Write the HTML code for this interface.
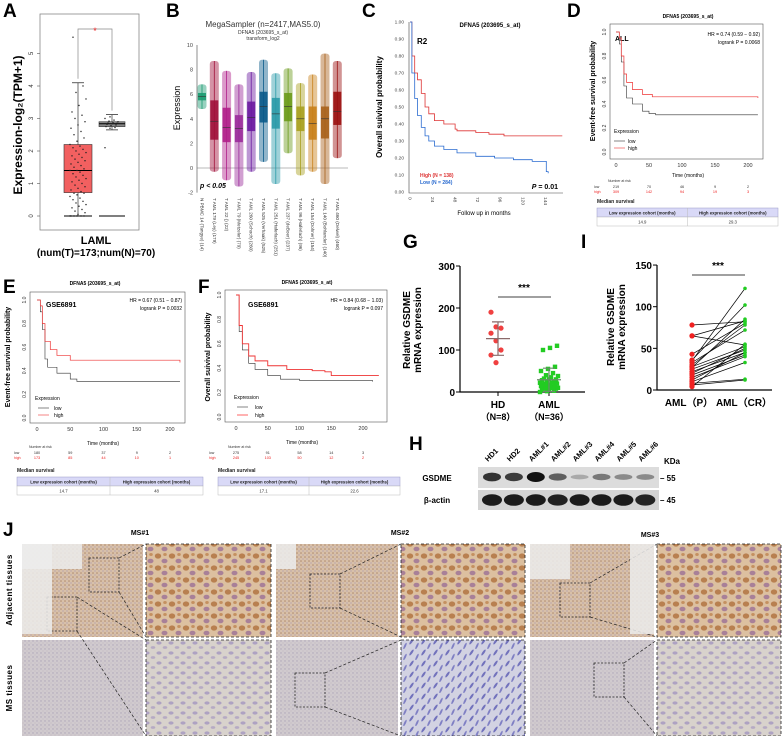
<!DOCTYPE html>
<html><head><meta charset="utf-8"><style>
html,body{margin:0;padding:0;background:#fff;}
svg{display:block;font-family:"Liberation Sans",Arial,sans-serif;}
.pl{font-size:19px;font-weight:bold;}
.t5{font-size:5px;}.t6{font-size:6px;}.t7{font-size:7px;}.t8{font-size:8px;}
</style></head><body>
<svg id="fig" width="783" height="736" viewBox="0 0 783 736">
<defs>
<pattern id="pAdj" width="4" height="4" patternUnits="userSpaceOnUse"><rect width="4" height="4" fill="#d8c0a8"/><circle cx="1" cy="1" r="0.8" fill="#b08a70"/><circle cx="3" cy="3" r="0.6" fill="#a898b0"/></pattern>
<pattern id="pAdjZ" width="14" height="12" patternUnits="userSpaceOnUse"><rect width="14" height="12" fill="#dcc0a0"/><ellipse cx="4" cy="4" rx="3.2" ry="2.6" fill="#b88050"/><ellipse cx="10.5" cy="9" rx="3" ry="2.3" fill="#a88098"/><ellipse cx="11" cy="2.5" rx="1.8" ry="1.5" fill="#c49060"/></pattern>
<pattern id="pMS" width="4" height="4" patternUnits="userSpaceOnUse"><rect width="4" height="4" fill="#d0cace"/><circle cx="1" cy="1" r="0.7" fill="#ada4b8"/><circle cx="3" cy="3" r="0.5" fill="#b8b0bc"/></pattern>
<pattern id="pMSZ" width="12" height="10" patternUnits="userSpaceOnUse"><rect width="12" height="10" fill="#d8d2cc"/><ellipse cx="3" cy="3" rx="2.6" ry="1.6" fill="#aea2c2"/><ellipse cx="9" cy="7.5" rx="2.3" ry="1.4" fill="#b6aac4"/></pattern>
<pattern id="pMSZ2" width="12" height="11" patternUnits="userSpaceOnUse"><rect width="12" height="11" fill="#d2d2e2"/><ellipse cx="3.5" cy="3.5" rx="3.5" ry="1.1" fill="#7272bc" transform="rotate(-55 3.5 3.5)"/><ellipse cx="9" cy="8" rx="3.5" ry="1" fill="#8080c4" transform="rotate(-65 9 8)"/></pattern>
</defs>

<!-- Panel labels -->
<text class="pl" x="3" y="17">A</text>
<text class="pl" x="166" y="17">B</text>
<text class="pl" x="362" y="17">C</text>
<text class="pl" x="567" y="17">D</text>
<text class="pl" x="3" y="293">E</text>
<text class="pl" x="198" y="293">F</text>
<text class="pl" x="403" y="248">G</text>
<text class="pl" x="581" y="248">I</text>
<text class="pl" x="409" y="450">H</text>
<text class="pl" x="3" y="536">J</text>

<!-- A static -->
<rect x="40" y="14" width="99" height="216" fill="none" stroke="#888" stroke-width="0.8"/>
<text x="22" y="125" transform="rotate(-90 22 125)" text-anchor="middle" style="font-size:12px;font-weight:bold">Expression-log₂(TPM+1)</text>
<text x="96" y="244" text-anchor="middle" style="font-size:11px;font-weight:bold">LAML</text>
<text x="96" y="256" text-anchor="middle" style="font-size:10px;font-weight:bold">(num(T)=173;num(N)=70)</text>
<g id="gA"></g>

<!-- B static -->
<text x="263" y="27" text-anchor="middle" class="t8" fill="#333">MegaSampler (n=2417,MAS5.0)</text>
<text x="263" y="34" text-anchor="middle" class="t5" fill="#333">DFNA5 (203695_s_at)</text>
<text x="263" y="40" text-anchor="middle" class="t5" fill="#333">transform_log2</text>
<text x="180" y="108" transform="rotate(-90 180 108)" text-anchor="middle" style="font-size:9px">Expression</text>
<text x="200" y="188" style="font-size:7px;font-weight:bold;font-style:italic">p &lt; 0.05</text>
<g id="gB"></g>

<!-- C static -->
<text x="490" y="27" text-anchor="middle" class="t6" style="font-weight:bold">DFNA5 (203695_s_at)</text>
<text x="417" y="44" style="font-size:8px;font-weight:bold">R2</text>
<text x="382" y="107" transform="rotate(-90 382 107)" text-anchor="middle" style="font-size:8px;font-weight:bold">Overall suivival probability</text>
<text x="420" y="177" class="t5" fill="#d33" style="font-weight:bold">High (N = 138)</text>
<text x="420" y="184" class="t5" fill="#2a6bd0" style="font-weight:bold">Low  (N = 284)</text>
<text x="558" y="189" text-anchor="end" style="font-size:7px;font-weight:bold"><tspan font-style="italic">P</tspan> = 0.01</text>
<text x="484" y="215" text-anchor="middle" class="t6">Follow up in months</text>
<g id="gC"></g>

<!-- D static -->
<text x="688" y="18" text-anchor="middle" class="t5" style="font-weight:bold">DFNA5 (203695_s_at)</text>
<text x="595" y="91" transform="rotate(-90 595 91)" text-anchor="middle" style="font-size:7px;font-weight:bold">Event-free survival probability</text>
<text x="615" y="41" style="font-size:7px;font-weight:bold">ALL</text>
<text x="760" y="36" text-anchor="end" class="t5">HR = 0.74 (0.59 − 0.92)</text>
<text x="760" y="44" text-anchor="end" class="t5">logrank P = 0.0068</text>
<text x="614" y="133" class="t5">Expression</text>
<line x1="614" y1="141" x2="625" y2="141" stroke="#333" stroke-width="0.6"/><text x="628" y="143" class="t5">low</text>
<line x1="614" y1="148" x2="625" y2="148" stroke="#e33" stroke-width="0.6"/><text x="628" y="150" class="t5">high</text>
<text x="688" y="177" text-anchor="middle" class="t5">Time (months)</text>
<g id="gD"></g>

<!-- E static -->
<text x="95" y="285" text-anchor="middle" class="t5" style="font-weight:bold">DFNA5 (203695_s_at)</text>
<text x="10" y="357" transform="rotate(-90 10 357)" text-anchor="middle" style="font-size:7px;font-weight:bold">Event-free survival probability</text>
<text x="46" y="307" style="font-size:7px;font-weight:bold">GSE6891</text>
<text x="182" y="302" text-anchor="end" class="t5">HR = 0.67 (0.51 − 0.87)</text>
<text x="182" y="310" text-anchor="end" class="t5">logrank P = 0.0032</text>
<text x="35" y="400" class="t5">Expression</text>
<line x1="38" y1="408" x2="49" y2="408" stroke="#333" stroke-width="0.6"/><text x="54" y="410" class="t5">low</text>
<line x1="38" y1="415" x2="49" y2="415" stroke="#e33" stroke-width="0.6"/><text x="54" y="417" class="t5">high</text>
<text x="103" y="445" text-anchor="middle" class="t5">Time (months)</text>
<g id="gE"></g>

<!-- F static -->
<text x="307" y="284" text-anchor="middle" class="t5" style="font-weight:bold">DFNA5 (203695_s_at)</text>
<text x="210" y="357" transform="rotate(-90 210 357)" text-anchor="middle" style="font-size:7px;font-weight:bold">Overall suivival probability</text>
<text x="248" y="307" style="font-size:7px;font-weight:bold">GSE6891</text>
<text x="383" y="302" text-anchor="end" class="t5">HR = 0.84 (0.68 − 1.03)</text>
<text x="383" y="310" text-anchor="end" class="t5">logrank P = 0.097</text>
<text x="234" y="399" class="t5">Expression</text>
<line x1="237" y1="407" x2="248" y2="407" stroke="#333" stroke-width="0.6"/><text x="255" y="409" class="t5">low</text>
<line x1="237" y1="415" x2="248" y2="415" stroke="#f99" stroke-width="1.5"/><text x="255" y="417" class="t5">high</text>
<text x="302" y="444" text-anchor="middle" class="t5">Time (months)</text>
<g id="gF"></g>

<!-- G static -->
<text x="410" y="330" transform="rotate(-90 410 330)" text-anchor="middle" style="font-size:10px;font-weight:bold">Relative GSDME</text>
<text x="421" y="330" transform="rotate(-90 421 330)" text-anchor="middle" style="font-size:10px;font-weight:bold">mRNA expression</text>
<text x="498" y="408" text-anchor="middle" style="font-size:10px;font-weight:bold">HD</text>
<text x="498" y="420" text-anchor="middle" style="font-size:9px;font-weight:bold">（N=8）</text>
<text x="549" y="408" text-anchor="middle" style="font-size:10px;font-weight:bold">AML</text>
<text x="549" y="420" text-anchor="middle" style="font-size:9px;font-weight:bold">（N=36）</text>
<line x1="498" y1="297" x2="551" y2="297" stroke="#000" stroke-width="0.8"/>
<text x="524" y="291" text-anchor="middle" style="font-size:10px;font-weight:bold">***</text>
<g id="gG"></g>

<!-- I static -->
<text x="614" y="327" transform="rotate(-90 614 327)" text-anchor="middle" style="font-size:10px;font-weight:bold">Relative GSDME</text>
<text x="625" y="327" transform="rotate(-90 625 327)" text-anchor="middle" style="font-size:10px;font-weight:bold">mRNA expression</text>
<text x="689" y="406" text-anchor="middle" style="font-size:10px;font-weight:bold">AML（P）</text>
<text x="744" y="406" text-anchor="middle" style="font-size:10px;font-weight:bold">AML（CR）</text>
<line x1="692" y1="275" x2="745" y2="275" stroke="#000" stroke-width="0.8"/>
<text x="718" y="269" text-anchor="middle" style="font-size:10px;font-weight:bold">***</text>
<g id="gI"></g>

<!-- H western blot -->
<rect x="478" y="467" width="181" height="21" fill="#dcdcdc"/>
<rect x="478" y="490" width="181" height="20" fill="#d4d4d4"/>
<text x="437" y="481" text-anchor="middle" style="font-size:8px;font-weight:bold">GSDME</text>
<text x="437" y="503" text-anchor="middle" style="font-size:8px;font-weight:bold">β-actin</text>
<text x="664" y="464" style="font-size:8px;font-weight:bold">KDa</text>
<text x="660" y="481" style="font-size:8px;font-weight:bold">– 55</text>
<text x="660" y="503" style="font-size:8px;font-weight:bold">– 45</text>
<g id="gH"></g>

<!-- J histology -->
<text x="140" y="535" text-anchor="middle" style="font-size:7px;font-weight:bold">MS#1</text>
<text x="400" y="535" text-anchor="middle" style="font-size:7px;font-weight:bold">MS#2</text>
<text x="650" y="537" text-anchor="middle" style="font-size:7px;font-weight:bold">MS#3</text>
<text x="12" y="590" transform="rotate(-90 12 590)" text-anchor="middle" style="font-size:8px;font-weight:bold;letter-spacing:0.5px">Adjacent tissues</text>
<text x="12" y="688" transform="rotate(-90 12 688)" text-anchor="middle" style="font-size:8px;font-weight:bold;letter-spacing:0.5px">MS tissues</text>
<g id="gJ"></g>
</svg>
<script>
// ---------- DATA ----------
// Panel A
const aTumorStats = [0, 0.72, 1.4, 2.2, 4.1];
const aNormalStats = [2.65, 2.75, 2.84, 2.9, 3.12];
const aTumorPts = [0,0,0,0,0,0,0.05,0.1,0.15,0.2,0.25,0.3,0.35,0.4,0.45,0.5,0.55,0.6,0.65,0.7,0.7,0.75,0.8,0.85,0.9,0.95,1.0,1.05,1.1,1.15,1.2,1.25,1.3,1.35,1.4,1.4,1.45,1.5,1.55,1.6,1.65,1.7,1.75,1.8,1.85,1.9,1.95,2.0,2.05,2.1,2.15,2.2,2.3,2.4,2.5,2.6,2.7,2.8,2.9,3.0,3.1,3.2,3.4,3.6,3.8,4.0,5.5];
const aNormalPts = [2.1,2.7,2.72,2.75,2.78,2.8,2.82,2.84,2.85,2.86,2.88,2.9,2.92,2.95,3.0,3.05];
const aTicks = [0,1,2,3,4,5];
// Panel B
const bCategories = ["N PBMC 14 (Tangye) (14)","T AML 179 (Ley) (179)","T AML 22 () (22)","T AML 79 (Metzeler) (79)","T AML 260 (Schoch) (260)","T AML 525 (Verhaak) (525)","T AML 251 (Haferlach) (251)","T AML 237 (deBoer) (237)","T AML 96 (Haferlach) (96)","T AML 154 (Dohner) (154)","T AML 140 (Bohlander) (140)","T AML 460 (Delwel) (460)"];
const bMin = [4.8,-0.3,-1.0,-1.5,-0.3,0.5,-1.3,1.2,-0.6,-0.3,-1.3,0.8];
const bQ1 = [5.5,2.3,2.1,2.1,3.0,3.7,3.2,3.8,3.0,2.3,2.4,3.5];
const bMed = [5.8,3.8,3.3,3.2,4.1,5.0,4.4,5.0,4.0,3.6,4.0,4.6];
const bQ3 = [6.1,5.5,4.9,4.3,5.4,6.2,5.7,6.1,5.0,5.0,5.0,6.2];
const bMax = [6.8,8.7,7.9,6.8,7.8,8.8,7.7,8.1,6.9,7.6,9.3,8.7];
const bColors = ["#1a9a70","#a0103a","#b0208a","#9a2a9a","#6a1aa0","#0a5a8a","#2a9aa8","#6a9a1a","#a8a020","#c8801a","#a8601a","#9a1010"];
const bTicks = [-2,0,2,4,6,8,10];
// Panel C
const cHighT = [0,2,5,8,12,16,20,26,36,48,50,70,84,100,162];
const cHighS = [1,0.8,0.7,0.66,0.58,0.5,0.46,0.42,0.40,0.37,0.36,0.35,0.34,0.33,0.33];
const cLowT = [0,2,5,8,12,16,20,26,36,50,70,90,110,130,144,145,147];
const cLowS = [1,0.7,0.55,0.45,0.38,0.33,0.3,0.27,0.25,0.23,0.21,0.2,0.19,0.18,0.18,0.12,0.11];
const cYTicks = [0,0.1,0.2,0.3,0.4,0.5,0.6,0.7,0.8,0.9,1.0];
const cXTicks = [0,24,48,72,96,120,144];
// Panel D
const dHighT = [0,5,8,12,16,25,40,55,215];
const dHighS = [1,0.95,0.8,0.65,0.58,0.52,0.48,0.46,0.45];
const dLowT = [0,5,8,12,16,25,40,50,60,215];
const dLowS = [1,0.9,0.75,0.55,0.45,0.4,0.34,0.32,0.31,0.31];
const dRiskLow = [219,70,46,9,2];
const dRiskHigh = [309,142,94,19,3];
const dMedian = ["14.9","29.3"];
// Panel E
const eHighT = [0,5,8,12,20,30,50,215];
const eHighS = [1,0.95,0.8,0.65,0.58,0.53,0.49,0.47];
const eLowT = [0,5,8,12,16,30,50,60,215];
const eLowS = [1,0.9,0.75,0.5,0.43,0.38,0.33,0.31,0.31];
const eRiskLow = [180,59,37,9,2];
const eRiskHigh = [173,85,44,10,1];
const eMedian = ["14.7","48"];
// Panel F
const fHighT = [0,5,10,20,30,50,80,120,140,150,225];
const fHighS = [1,0.75,0.6,0.5,0.46,0.42,0.39,0.38,0.37,0.34,0.34];
const fLowT = [0,5,10,20,30,50,70,100,215];
const fLowS = [1,0.7,0.55,0.44,0.39,0.34,0.31,0.3,0.29];
const fRiskLow = [275,91,58,14,3];
const fRiskHigh = [245,103,50,12,2];
const fMedian = ["17.1","22.6"];
const kmYTicks = [0,0.2,0.4,0.6,0.8,1.0];
const kmXTicks = [0,50,100,150,200];
// Panel G
const gHD = [190,155,152,140,122,100,88,70];
const gAML = [0,2,3,5,5,8,8,10,10,12,12,14,15,15,18,18,20,20,22,22,25,25,28,30,30,32,35,38,40,45,50,55,60,100,105,110];
const gTicks = [0,100,200,300];
// Panel I
const iP = [78,65,65,43,36,35,33,30,28,27,25,22,20,18,15,12,10,8,6,4];
const iCR = [82,83,54,80,102,122,72,78,52,85,48,45,50,42,40,45,33,13,12,55];
const iTicks = [0,50,100,150];
// Panel H
const hLanes = ["HD1","HD2","AML#1","AML#2","AML#3","AML#4","AML#5","AML#6"];
const hGsdme = [0.8,0.75,1.0,0.55,0.12,0.4,0.3,0.3];
const hActin = [0.95,0.95,0.95,0.92,0.95,0.95,0.95,0.9];

// ---------- HELPERS ----------
const NS="http://www.w3.org/2000/svg";
function mk(parent,tag,attrs){const e=document.createElementNS(NS,tag);for(const k in attrs)e.setAttribute(k,attrs[k]);parent.appendChild(e);return e;}
function stepPath(T,S,fx,fy){let d="M"+fx(T[0])+","+fy(S[0]);for(let i=1;i<T.length;i++){d+=" H"+fx(T[i])+" V"+fy(S[i]);}return d;}

// ---------- PANEL A ----------
(function(){
const g=document.getElementById('gA');
const yA=v=>216-32.5*v;
aTicks.forEach(t=>{
 const l=mk(g,'line',{x1:37,x2:40,y1:yA(t),y2:yA(t),stroke:'#555','stroke-width':0.6});
 
 
 const tx=mk(g,'text',{x:33,y:yA(t),'font-size':6,'text-anchor':'middle',transform:`rotate(-90 33 ${yA(t)})`,fill:'#333'});tx.textContent=t;
 
 
});
function box(st,x0,x1,fill,name){
 const cx=(x0+x1)/2;
 const w=mk(g,'line',{x1:cx,x2:cx,y1:yA(st[0]),y2:yA(st[4]),stroke:'#333','stroke-width':0.7});
 
 
 [st[0],st[4]].forEach(v=>{const c=mk(g,'line',{x1:cx-6,x2:cx+6,y1:yA(v),y2:yA(v),stroke:'#333','stroke-width':0.8});
  
  });
 const r=mk(g,'rect',{x:x0,y:yA(st[3]),width:x1-x0,height:yA(st[1])-yA(st[3]),fill:fill,stroke:'#333','stroke-width':0.6});
 
 
 const m=mk(g,'line',{x1:x0,x2:x1,y1:yA(st[2]),y2:yA(st[2]),stroke:'#000','stroke-width':1});
 
 
 return cx;
}
box(aTumorStats,64,92,'#f26060','a-tumor');
box(aNormalStats,99,125,'#888','a-normal');
const z=mk(g,'line',{x1:64,x2:92,y1:yA(0),y2:yA(0),stroke:'#333','stroke-width':1.2});


const z2=mk(g,'line',{x1:99,x2:125,y1:yA(0),y2:yA(0),stroke:'#333','stroke-width':1.2});


aTumorPts.forEach((v,i)=>{const p=mk(g,'circle',{cx:70+((i*7)%17),cy:yA(v),r:0.7,fill:'#222'});
 
 });
aNormalPts.forEach((v,i)=>{const p=mk(g,'circle',{cx:105+((i*5)%14),cy:yA(v),r:0.7,fill:'#222'});
 
 });
const br=mk(g,'path',{d:`M78,${yA(4.1)-4} V29 H112 V${yA(3.12)-4}`,fill:'none',stroke:'#888','stroke-width':0.7});


const st=mk(g,'text',{x:95,y:34,'font-size':9,fill:'#e22','text-anchor':'middle'});st.textContent='*';


})();

// ---------- PANEL B ----------
(function(){
const g=document.getElementById('gB');
const yB=v=>168-12.3*v;
const xB=i=>202+12.3*i;
const ax=mk(g,'line',{x1:197,x2:197,y1:yB(10),y2:yB(-2),stroke:'#444','stroke-width':0.6});


const zl=mk(g,'line',{x1:197,x2:348,y1:yB(0),y2:yB(0),stroke:'#777','stroke-width':0.6});


bTicks.forEach(t=>{
 const tx=mk(g,'text',{x:193,y:yB(t)+2,'font-size':5.5,'text-anchor':'end',fill:'#444'});tx.textContent=t;
 
 
});
bCategories.forEach((c,i)=>{
 const x=xB(i),col=bColors[i];
 const band=mk(g,'rect',{x:x-4.5,y:yB(bMax[i]),width:9,height:yB(bMin[i])-yB(bMax[i]),fill:col,opacity:0.45,rx:3});
 
 
 const w=mk(g,'line',{x1:x,x2:x,y1:yB(bMin[i]),y2:yB(bMax[i]),stroke:col,'stroke-width':0.8});
 
 
 const b=mk(g,'rect',{x:x-4,y:yB(bQ3[i]),width:8,height:yB(bQ1[i])-yB(bQ3[i]),fill:col,opacity:0.9});
 
 
 const m=mk(g,'line',{x1:x-4,x2:x+4,y1:yB(bMed[i]),y2:yB(bMed[i]),stroke:'#333','stroke-width':0.6});
 
 
 const tx=mk(g,'text',{x:x-1.5,y:198,'font-size':4.6,fill:'#333',transform:`rotate(90 ${x-1.5} 198)`});tx.textContent=c;
 
 
});
})();

// ---------- PANEL C ----------
(function(){
const g=document.getElementById('gC');
const xC=m=>410+0.94*m, yC=p=>192-170*p;
const ax=mk(g,'path',{d:`M409,${yC(1)} V193 H563`,fill:'none',stroke:'#444','stroke-width':0.6});


cYTicks.forEach(t=>{const tx=mk(g,'text',{x:404,y:yC(t)+1.5,'font-size':4.8,'text-anchor':'end',fill:'#444'});tx.textContent=t.toFixed(2);
 
 });
cXTicks.forEach(t=>{const tx=mk(g,'text',{x:xC(t)-1.5,y:197,'font-size':4.8,fill:'#444',transform:`rotate(90 ${xC(t)-1.5} 197)`});tx.textContent=t;
 
 });
const h=mk(g,'path',{d:stepPath(cHighT,cHighS,xC,yC),fill:'none',stroke:'#d33','stroke-width':0.8});


const l=mk(g,'path',{d:stepPath(cLowT,cLowS,xC,yC),fill:'none',stroke:'#2a6bd0','stroke-width':0.8});


})();

// ---------- KM panels D/E/F ----------
function kmPanel(id,fr,fx,fy,hT,hS,lT,lS,rl,rh,med,riskY,tbl,highCol,highW){
const g=document.getElementById(id);
const f=mk(g,'rect',{x:fr[0],y:fr[1],width:fr[2]-fr[0],height:fr[3]-fr[1],fill:'none',stroke:'#555','stroke-width':0.6});


kmYTicks.forEach(t=>{const y=fy(t);const tx=mk(g,'text',{x:fr[0]-4,y:y,'font-size':5,'text-anchor':'middle',fill:'#333',transform:`rotate(-90 ${fr[0]-4} ${y})`});tx.textContent=t.toFixed(1);
 
 });
kmXTicks.forEach(t=>{const tx=mk(g,'text',{x:fx(t),y:fr[3]+8,'font-size':5.5,'text-anchor':'middle',fill:'#333'});tx.textContent=t;
 
 });
const l=mk(g,'path',{d:stepPath(lT,lS,fx,fy),fill:'none',stroke:'#333','stroke-width':0.6});


const h=mk(g,'path',{d:stepPath(hT,hS,fx,fy),fill:'none',stroke:highCol,'stroke-width':highW});


const nr=mk(g,'text',{x:fx(0)-8,y:riskY-5,'font-size':3.5,fill:'#333'});nr.textContent='Number at risk';


const lb1=mk(g,'text',{x:fr[0]-16,y:riskY+1,'font-size':3.5,fill:'#333'});lb1.textContent='low';


const lb2=mk(g,'text',{x:fr[0]-16,y:riskY+6,'font-size':3.5,fill:'#e22'});lb2.textContent='high';


kmXTicks.forEach((t,i)=>{
 const a=mk(g,'text',{x:fx(t),y:riskY+1,'font-size':3.8,'text-anchor':'middle',fill:'#333'});a.textContent=rl[i];
 
 
 const b=mk(g,'text',{x:fx(t),y:riskY+6,'font-size':3.8,'text-anchor':'middle',fill:'#e22'});b.textContent=rh[i];
 
 
});
const ms=mk(g,'text',{x:tbl[0],y:tbl[1]-5,'font-size':5,'font-weight':'bold',fill:'#222'});ms.textContent='Median survival';


const W=tbl[2]-tbl[0],mid=tbl[0]+W/2;
const hd=mk(g,'rect',{x:tbl[0],y:tbl[1],width:W,height:9,fill:'#d9d9f7',stroke:'#9a9ac8','stroke-width':0.5});


const rw=mk(g,'rect',{x:tbl[0],y:tbl[1]+9,width:W,height:9,fill:'#fff',stroke:'#bbb','stroke-width':0.5});


const dv=mk(g,'line',{x1:mid,x2:mid,y1:tbl[1],y2:tbl[1]+18,stroke:'#bbb','stroke-width':0.5});


["Low expression cohort (months)","High expression cohort (months)"].forEach((s,i)=>{
 const t=mk(g,'text',{x:tbl[0]+W/4+i*W/2,y:tbl[1]+6.3,'font-size':4.3,'font-weight':'bold','text-anchor':'middle',fill:'#222'});t.textContent=s;
 
 
 const v=mk(g,'text',{x:tbl[0]+W/4+i*W/2,y:tbl[1]+15.5,'font-size':4.3,'text-anchor':'middle',fill:'#333'});v.textContent=med[i];
 
 
});
}
kmPanel('gD',[610,24,763,159],m=>616+0.66*m,p=>152-120*p,dHighT,dHighS,dLowT,dLowS,dRiskLow,dRiskHigh,dMedian,187,[597,208,778],'#e33',0.7);
kmPanel('gE',[30,292,185,423],m=>37+0.665*m,p=>418-118*p,eHighT,eHighS,eLowT,eLowS,eRiskLow,eRiskHigh,eMedian,453,[17,477,203],'#e33',0.7);
kmPanel('gF',[225,290,387,422],m=>236+0.635*m,p=>417-122*p,fHighT,fHighS,fLowT,fLowS,fRiskLow,fRiskHigh,fMedian,453,[218,477,400],'#e33',0.9);

// ---------- PANEL G ----------
(function(){
const g=document.getElementById('gG');
const yG=v=>392-0.42*v;
const ax=mk(g,'path',{d:`M460,${yG(300)} V392 H585`,fill:'none',stroke:'#000','stroke-width':1.2});


gTicks.forEach(t=>{
 const l=mk(g,'line',{x1:456,x2:460,y1:yG(t),y2:yG(t),stroke:'#000','stroke-width':1});
 
 
 const tx=mk(g,'text',{x:455,y:yG(t)+4,'font-size':10,'font-weight':'bold','text-anchor':'end'});tx.textContent=t;
 
 
});
[498,549].forEach(x=>{const l=mk(g,'line',{x1:x,x2:x,y1:392,y2:396,stroke:'#000','stroke-width':1});
 
 });
function stats(a){const m=a.reduce((s,v)=>s+v,0)/a.length;const sd=Math.sqrt(a.reduce((s,v)=>s+(v-m)*(v-m),0)/(a.length-1));return[m,sd];}
function errbar(a,x,col){const [m,sd]=stats(a);
 const e=mk(g,'path',{d:`M${x},${yG(m-sd)} V${yG(m+sd)} M${x-6},${yG(m+sd)} H${x+6} M${x-6},${yG(m-sd)} H${x+6} M${x-12},${yG(m)} H${x+12}`,stroke:col,'stroke-width':1.2,fill:'none'});
 
 }
gHD.forEach((v,i)=>{const c=mk(g,'circle',{cx:498+((i*5)%15)-7,cy:yG(v),r:2.6,fill:'#f04040'});
 
 });
gAML.forEach((v,i)=>{const dx=((i*7)%19)-9;const c=mk(g,'rect',{x:549+dx-2.2,y:yG(v)-2.2,width:4.4,height:4.4,fill:'#22cc22'});
 
 });
errbar(gHD,498,'#8a6a6a');errbar(gAML,549,'#6a8a6a');
})();

// ---------- PANEL I ----------
(function(){
const g=document.getElementById('gI');
const yI=v=>390-0.833*v;
const ax=mk(g,'path',{d:`M657,${yI(150)} V390 H772`,fill:'none',stroke:'#000','stroke-width':1.2});


iTicks.forEach(t=>{
 const l=mk(g,'line',{x1:653,x2:657,y1:yI(t),y2:yI(t),stroke:'#000','stroke-width':1});
 
 
 const tx=mk(g,'text',{x:652,y:yI(t)+4,'font-size':10,'font-weight':'bold','text-anchor':'end'});tx.textContent=t;
 
 
});
iP.forEach((v,i)=>{
 const l=mk(g,'line',{x1:692,y1:yI(v),x2:745,y2:yI(iCR[i]),stroke:'#000','stroke-width':0.7});
 
 
});
iP.forEach(v=>{const c=mk(g,'circle',{cx:692,cy:yI(v),r:2.6,fill:'#f02020'});
 
 });
iCR.forEach(v=>{const c=mk(g,'circle',{cx:745,cy:yI(v),r:1.8,fill:'#22cc22'});
 
 });
})();

// ---------- PANEL H ----------
(function(){
const g=document.getElementById('gH');
const lx=i=>492+21.9*i;
hLanes.forEach((n,i)=>{
 const x=lx(i);
 const t=mk(g,'text',{x:x-4,y:462,'font-size':7.5,'font-weight':'bold',transform:`rotate(-45 ${x-4} 462)`});t.textContent=n;
 
 
 const b=mk(g,'ellipse',{cx:x,cy:477,rx:9,ry:2+3*hGsdme[i],fill:'#111',opacity:0.15+0.85*hGsdme[i]});
 
 
 const a=mk(g,'ellipse',{cx:x,cy:500,rx:10,ry:2+4*hActin[i],fill:'#111',opacity:hActin[i]});
 
 
});
})();

// ---------- PANEL J ----------
(function(){
const g=document.getElementById('gJ');
const cols=[[22,143,146,271],[276,398,401,525],[530,654,657,781]];
const rows=[[544,637],[640,736]];
const fills=[["pAdj","pAdjZ"],["pMS","pMSZ"]];
const insets=[[[89,558],[47,597]],[[310,574],[295,673]],[[560,583],[594,663]]];
cols.forEach((c,ci)=>{rows.forEach((r,ri)=>{
 const big=mk(g,'rect',{x:c[0],y:r[0],width:c[1]-c[0],height:r[1]-r[0],fill:'url(#'+fills[ri][0]+')'});
 
 
 const zf=(ri===1&&ci===1)?'pMSZ2':fills[ri][1];
 const zm=mk(g,'rect',{x:c[2],y:r[0],width:c[3]-c[2],height:r[1]-r[0],fill:'url(#'+zf+')',stroke:'#222','stroke-width':0.8,'stroke-dasharray':'3,2'});
 
 
 const sx=insets[ci][ri];
 const s=mk(g,'rect',{x:sx[0],y:sx[1],width:30,height:34,fill:'none',stroke:'#222','stroke-width':0.8,'stroke-dasharray':'2,1.5'});
 
 
 const ln=mk(g,'path',{d:`M${sx[0]+30},${sx[1]} L${c[2]},${r[0]} M${sx[0]+30},${sx[1]+34} L${c[2]},${r[1]}`,stroke:'#222','stroke-width':0.7,'stroke-dasharray':'3,2',fill:'none'});
 
 
});});
// white background regions in adjacent overviews
const wb=[[22,544,30,90],[22,544,60,25],[276,544,20,25],[530,544,40,35],[630,544,24,90]];
wb.forEach(w=>{const r=mk(g,'rect',{x:w[0],y:w[1],width:w[2],height:w[3],fill:'#ececec',opacity:0.85});
 
 });
})();
</script>
</body></html>
